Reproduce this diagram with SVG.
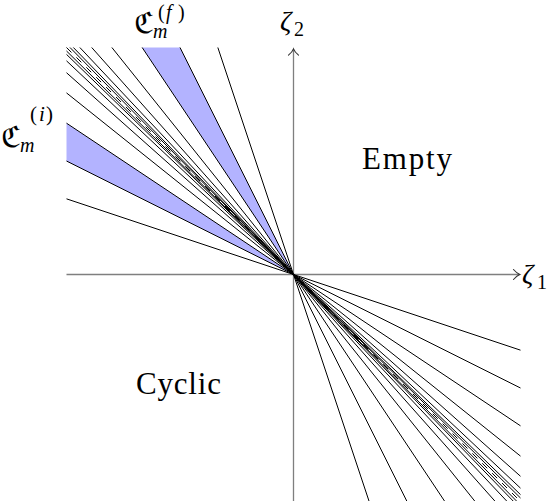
<svg xmlns="http://www.w3.org/2000/svg" width="554" height="501" viewBox="0 0 554 501">
<style>
.ray{stroke:#000;stroke-width:1;fill:none}
.dash{stroke:#000;stroke-width:1;fill:none;stroke-dasharray:7 7}
.axis{stroke:#7f7f7f;stroke-width:1.3;fill:none}
.tip{stroke:#333;stroke-width:1.1;fill:none;stroke-linecap:round}
.band{fill:#b3b3ff;stroke:none}
</style>
<rect width="554" height="501" fill="#fff"/>
<g id="regions">
<polygon class="band" points="293.5,274.5 66.5,161 66.5,123.17"/>
<polygon class="band" points="293.5,274.5 142.17,47.5 180,47.5"/>
</g>
<g id="axes">
<line class="axis" x1="66.5" y1="274.5" x2="519.5" y2="274.5"/>
<path class="tip" d="M513.5,269.5 Q517,273.5 519.8,274.5 Q517,275.5 513.5,279.5"/>
<line class="axis" x1="293.5" y1="501.5" x2="293.5" y2="49.2"/>
<path class="tip" d="M288.5,55.2 Q292.5,51.7 293.5,48.9 Q294.5,51.7 298.5,55.2"/>
</g>
<g id="rays">
<line class="ray" x1="66.5" y1="198.83" x2="520.5" y2="350.17"/>
<line class="ray" x1="66.5" y1="161" x2="520.5" y2="388"/>
<line class="ray" x1="66.5" y1="123.17" x2="520.5" y2="425.83"/>
<line class="ray" x1="66.5" y1="92.9" x2="520.5" y2="456.1"/>
<line class="ray" x1="66.5" y1="72.72" x2="520.5" y2="476.28"/>
<line class="ray" x1="66.5" y1="60.85" x2="520.5" y2="488.15"/>
<line class="ray" x1="66.5" y1="54.38" x2="520.5" y2="494.62"/>
<line class="ray" x1="66.5" y1="50.99" x2="520.5" y2="498.01"/>
<line class="dash" x1="66.5" y1="47.5" x2="520.5" y2="501.5"/>
<line class="ray" x1="69.99" y1="47.5" x2="517.01" y2="501.5"/>
<line class="ray" x1="73.38" y1="47.5" x2="513.62" y2="501.5"/>
<line class="ray" x1="79.85" y1="47.5" x2="507.15" y2="501.5"/>
<line class="ray" x1="91.72" y1="47.5" x2="495.28" y2="501.5"/>
<line class="ray" x1="111.9" y1="47.5" x2="475.1" y2="501.5"/>
<line class="ray" x1="142.17" y1="47.5" x2="444.83" y2="501.5"/>
<line class="ray" x1="180" y1="47.5" x2="407" y2="501.5"/>
<line class="ray" x1="217.83" y1="47.5" x2="369.17" y2="501.5"/>
</g>
<g id="labels" font-family="'Liberation Serif', 'DejaVu Serif', serif" fill="#000">
<text font-family="'Liberation Serif', serif" font-size="31" x="362" y="169" textLength="90" lengthAdjust="spacing">Empty</text>
<text font-family="'Liberation Serif', serif" font-size="31" x="136" y="394" textLength="85" lengthAdjust="spacing">Cyclic</text>
<text font-family="'Liberation Serif', serif"><tspan font-size="28" font-style="italic" x="522" y="283">ζ</tspan><tspan font-size="20" x="537" y="289">1</tspan></text>
<text font-family="'Liberation Serif', serif"><tspan font-size="28" font-style="italic" x="280" y="30">ζ</tspan><tspan font-size="20" x="294" y="36">2</tspan></text>
<text font-family="'Liberation Serif', serif"><tspan font-family="'DejaVu Serif', 'DejaVu Sans', serif" font-size="29" x="134" y="33">ℭ</tspan><tspan font-size="20" font-style="italic" x="153" y="38">m</tspan><tspan font-size="20" x="158" y="19">(</tspan><tspan font-size="20" font-style="italic" x="166" y="19">f</tspan><tspan font-size="20" x="178" y="19">)</tspan></text>
<text font-family="'Liberation Serif', serif"><tspan font-family="'DejaVu Serif', 'DejaVu Sans', serif" font-size="29" x="1" y="147">ℭ</tspan><tspan font-size="20" font-style="italic" x="20" y="152">m</tspan><tspan font-size="21" x="30" y="121">(</tspan><tspan font-size="21" font-style="italic" x="39" y="121">i</tspan><tspan font-size="21" x="46" y="121">)</tspan></text>
</g>
</svg>
